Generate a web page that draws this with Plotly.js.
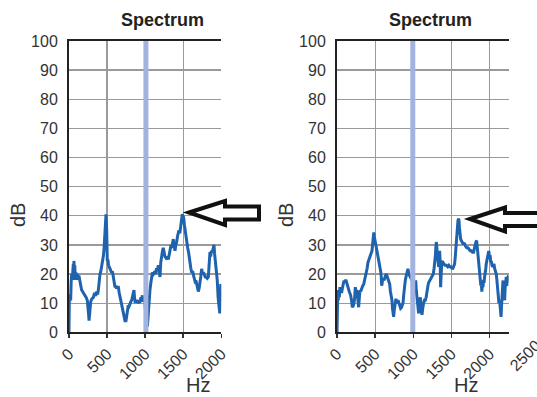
<!DOCTYPE html>
<html>
<head>
<meta charset="utf-8">
<script src="https://cdn.plot.ly/plotly-3.0.1.min.js"></script>
<style>
html,body{margin:0;padding:0;overflow:hidden;background:#fff;}
#chart{width:537px;height:397px;}
</style>
</head>
<body>
<div id="chart"></div>
<script>
// ---- Data ----
const leftHz = [0,4,10,16,22,28,35,42,50,57,61,65,70,76,82,90,100,110,120,130,145,155,166,180,195,210,225,240,250,258,263,268,275,285,300,320,335,350,363,375,385,395,407,418,429,440,450,460,468,473,478,483,486,490,495,498,503,510,520,530,538,550,560,570,582,590,598,604,615,625,635,648,660,675,692,705,715,722,735,748,760,770,779,790,800,812,823,835,845,853,860,868,880,895,910,920,932,945,955,963,970,978,990,1010,1030,1040,1050,1063,1075,1085,1095,1110,1129,1140,1150,1160,1173,1185,1195,1205,1216,1228,1238,1250,1260,1275,1290,1304,1315,1328,1340,1348,1360,1370,1380,1392,1403,1414,1425,1435,1444,1455,1466,1475,1482,1488,1495,1505,1515,1525,1535,1545,1558,1570,1580,1589,1600,1612,1624,1635,1645,1655,1667,1678,1688,1698,1708,1720,1730,1742,1753,1764,1775,1790,1800,1815,1830,1840,1851,1860,1870,1882,1893,1904,1912,1925,1935,1947,1958,1969,1980,1988,1993,2000];
const leftDb = [0,12,10.5,13,11,17,20,18,21,23.5,19,24.5,21,23,18,20.5,19,20,18,19.5,18,16,14.5,14,13.5,12.7,12,11,9,6,4,6,10,10.5,11.5,12,13.5,12.5,14,13,14.5,18,20,21,22.5,24,26,28.5,31,34,37,39,40.5,38,35,30,24.5,25,23,22.5,22,21,20.5,21,19,17.5,15.5,15.5,16,15,15.5,15.5,13.5,11.5,10,8,6,5.5,4,4,6,8,9.3,9,10,10.5,11,12.5,14,14.5,12,10.5,10.5,11,10,10.5,10.5,12,11,12.7,10.5,11,12,6,2,6,11,14.5,17,19.5,20.5,20,21,20,22,21,23,21,19,24,27,28,29,27,26,25.5,26,25,27,28,30,29,31,32,30,28,30,31,33,34,35,34,36,38,40,40.5,40,39.5,37,35,32,30,29,27.5,25,23,22,20.5,21,19.5,18.5,17.5,17.8,16,14.5,14,15,16.6,19,21.8,20,20.6,19.5,19,19,18.5,19,23,27.5,26,28,27.5,29,30,27,23.5,21,17.8,12,8.2,6.5,11,16.6,15.5];

const rightHz = [0,4,10,16,22,30,38,44,52,60,66,75,84,92,100,107,114,122,130,144,160,179,190,201,212,223,232,240,248,256,266,272,278,284,290,296,301,310,320,328,338,350,362,372,384,395,406,420,437,447,459,466,472,476,482,488,495,502,510,518,528,540,550,562,572,580,585,590,598,606,616,625,635,646,656,668,678,690,700,710,720,728,735,742,750,758,764,772,782,790,800,812,822,834,845,855,865,875,886,896,908,916,922,930,940,952,965,980,1000,1015,1025,1031,1040,1052,1060,1070,1078,1085,1092,1100,1108,1114,1122,1130,1135,1145,1157,1168,1175,1183,1192,1200,1214,1225,1236,1250,1262,1272,1280,1288,1295,1301,1306,1314,1320,1326,1332,1338,1345,1352,1358,1365,1376,1388,1402,1415,1432,1450,1465,1476,1490,1506,1520,1530,1541,1550,1557,1563,1570,1578,1585,1592,1598,1604,1611,1620,1628,1637,1650,1660,1672,1685,1700,1716,1730,1745,1760,1775,1790,1800,1812,1820,1830,1838,1847,1858,1869,1878,1885,1891,1898,1905,1913,1920,1927,1934,1942,1950,1956,1965,1975,1985,1991,1998,2008,2015,2022,2030,2040,2050,2057,2065,2075,2087,2095,2102,2109,2115,2122,2131,2138,2145,2150,2156,2162,2168,2175,2182,2190,2197,2203,2210,2218,2225,2232,2240,2250];
const rightDb = [0,3,14.5,11,13,12,15.5,14,15,13.5,14.5,16,17,17.8,17,18,18,17.5,16.5,15.5,14,12.7,11,8.6,9,10,12,15.5,14,14.5,13.3,11,9,8.6,11,13,14.5,14,15,15.5,16,16.5,17.8,19,20,22,24,25,26.4,27,28,30,32,33.7,34.3,33,32,31.5,30,29,28,26,24.5,22,21,19,16,16.6,18,18.5,17.8,19,19.5,20,19,17.8,17,16.6,14,12.5,11,8,6,5.3,7.5,10,11,11.5,10,10.5,11,10,9,8.2,8.5,9,10,13,16.6,18,19.5,20.5,21,21.8,20,19.5,19,18,16,15,16,17.8,14,11,9,6.5,10,11,12,9,7,6,8,10,10,11,11,12,14,14.5,16,17,17.8,18.5,19,19.5,20,22,23.5,26,29,31,30,27,24,25,22.5,25,28,24,15.5,20,24.5,24,23.5,23,23,22.5,23,22.5,22.5,22,22,22.5,23.5,26,29,31.5,35,37,38.3,39,38.5,36,33.7,32,31.5,31,30.5,30.5,30.4,29.5,29,29,28.5,28,28,27.5,27.5,29,30.4,31,31.5,29,26.4,24,22,19,16,16.6,14,16,15.5,18,17,19,20,22,23.5,25,26,27.5,27.5,26,26,24,24.5,23,22.5,23,23.5,22,21,20,18,16,15.5,12,10,11,8,6,5.3,9,13,16,17.8,14,12,11,15,18,19,16,18,19,19.5];

const markerHz = [1010, 993];          // highlighted frequency band in each panel
const xTicks = [0, 500, 1000, 1500, 2000];
const yTicks = [0,10,20,30,40,50,60,70,80,90,100];
const titles = ["Spectrum", "Spectrum"];

// ---- Layout helpers (pixel -> paper) ----
const W = 537, H = 397;
const px = v => v / W;
const py = v => 1 - v / H;

const curveColor = '#1f63ae';
const bandColor = '#a3b3df';
const tickFont = {family: 'Liberation Sans, Arial, sans-serif', size: 16, color: '#333'};

const traces = [
  {x: leftHz, y: leftDb, xaxis: 'x', yaxis: 'y', mode: 'lines', line: {color: curveColor, width: 3}, hoverinfo: 'skip'},
  {x: [markerHz[0], markerHz[0]], y: [0, 100], xaxis: 'x', yaxis: 'y', mode: 'lines', line: {color: bandColor, width: 5}, hoverinfo: 'skip'},
  {x: rightHz, y: rightDb, xaxis: 'x2', yaxis: 'y2', mode: 'lines', line: {color: curveColor, width: 3}, hoverinfo: 'skip'},
  {x: [markerHz[1], markerHz[1]], y: [0, 100], xaxis: 'x2', yaxis: 'y2', mode: 'lines', line: {color: bandColor, width: 5}, hoverinfo: 'skip'}
];

function xAxis(domain, range, anchor) {
  return {
    domain: domain, range: range, anchor: anchor,
    tickmode: 'array', tickvals: xTicks, ticktext: xTicks.map(String),
    tickangle: -45, tickfont: tickFont,
    ticks: 'outside', ticklen: 4, tickwidth: 1.5, tickcolor: '#333',
    showgrid: true, gridcolor: '#9a9a9a', gridwidth: 1.3,
    showline: true, linecolor: '#222', linewidth: 2, mirror: true,
    zeroline: false, automargin: false, fixedrange: true
  };
}
function yAxis(domain, anchor) {
  return {
    domain: domain, range: [0, 100], anchor: anchor,
    tickmode: 'array', tickvals: yTicks, ticktext: yTicks.map(String),
    tickfont: tickFont, ticks: '', ticklabelstandoff: 6,
    showgrid: true, gridcolor: '#9a9a9a', gridwidth: 1.3,
    showline: true, linecolor: '#222', linewidth: 2, mirror: false,
    zeroline: false, automargin: false, fixedrange: true
  };
}

const yDom = [py(332.3), py(41)];

function arrowPath(pts) {
  return 'M' + pts.map(p => px(p[0]) + ',' + py(p[1])).join(' L') + ' Z';
}

const layout = {
  width: W, height: H,
  margin: {l: 0, r: 0, t: 0, b: 0},
  paper_bgcolor: '#fff', plot_bgcolor: '#fff',
  showlegend: false,
  xaxis: xAxis([px(69), px(221.3)], [0, 2000], 'y'),
  yaxis: yAxis(yDom, 'x'),
  xaxis2: xAxis([px(337), px(508.7)], [0, 2250], 'y2'),
  yaxis2: yAxis(yDom, 'x2'),
  shapes: [
    {type: 'path', xref: 'paper', yref: 'paper', fillcolor: '#fff', line: {color: '#111', width: 4},
     path: arrowPath([[189,212.5],[225,201],[225,206.5],[259,206.5],[259,219.5],[225,219.5],[225,225]])},
    {type: 'path', xref: 'paper', yref: 'paper', fillcolor: '#fff', line: {color: '#111', width: 4},
     path: arrowPath([[470,219],[505,207.5],[505,213],[548,213],[548,226],[505,226],[505,231.5]])}
  ],
  annotations: [
    {text: '<b>' + titles[0] + '</b>', xref: 'paper', yref: 'paper', x: px(162), y: py(20), xanchor: 'center', yanchor: 'middle', showarrow: false, font: {family: 'Liberation Sans, Arial, sans-serif', size: 18, color: '#222'}},
    {text: '<b>' + titles[1] + '</b>', xref: 'paper', yref: 'paper', x: px(430), y: py(20), xanchor: 'center', yanchor: 'middle', showarrow: false, font: {family: 'Liberation Sans, Arial, sans-serif', size: 18, color: '#222'}},
    {text: 'dB', xref: 'paper', yref: 'paper', x: px(18), y: py(215), textangle: -90, xanchor: 'center', yanchor: 'middle', showarrow: false, font: {family: 'Liberation Sans, Arial, sans-serif', size: 20, color: '#333'}},
    {text: 'dB', xref: 'paper', yref: 'paper', x: px(286), y: py(215), textangle: -90, xanchor: 'center', yanchor: 'middle', showarrow: false, font: {family: 'Liberation Sans, Arial, sans-serif', size: 20, color: '#333'}},
    {text: 'Hz', xref: 'paper', yref: 'paper', x: px(198), y: py(385), xanchor: 'center', yanchor: 'middle', showarrow: false, font: {family: 'Liberation Sans, Arial, sans-serif', size: 20, color: '#333'}},
    {text: 'Hz', xref: 'paper', yref: 'paper', x: px(466), y: py(385), xanchor: 'center', yanchor: 'middle', showarrow: false, font: {family: 'Liberation Sans, Arial, sans-serif', size: 20, color: '#333'}},
    {text: '2500', xref: 'paper', yref: 'paper', x: px(525), y: py(355), textangle: -45, xanchor: 'center', yanchor: 'middle', showarrow: false, font: tickFont}
  ]
};

Plotly.newPlot('chart', traces, layout, {staticPlot: true, displayModeBar: false});
</script>
</body>
</html>
